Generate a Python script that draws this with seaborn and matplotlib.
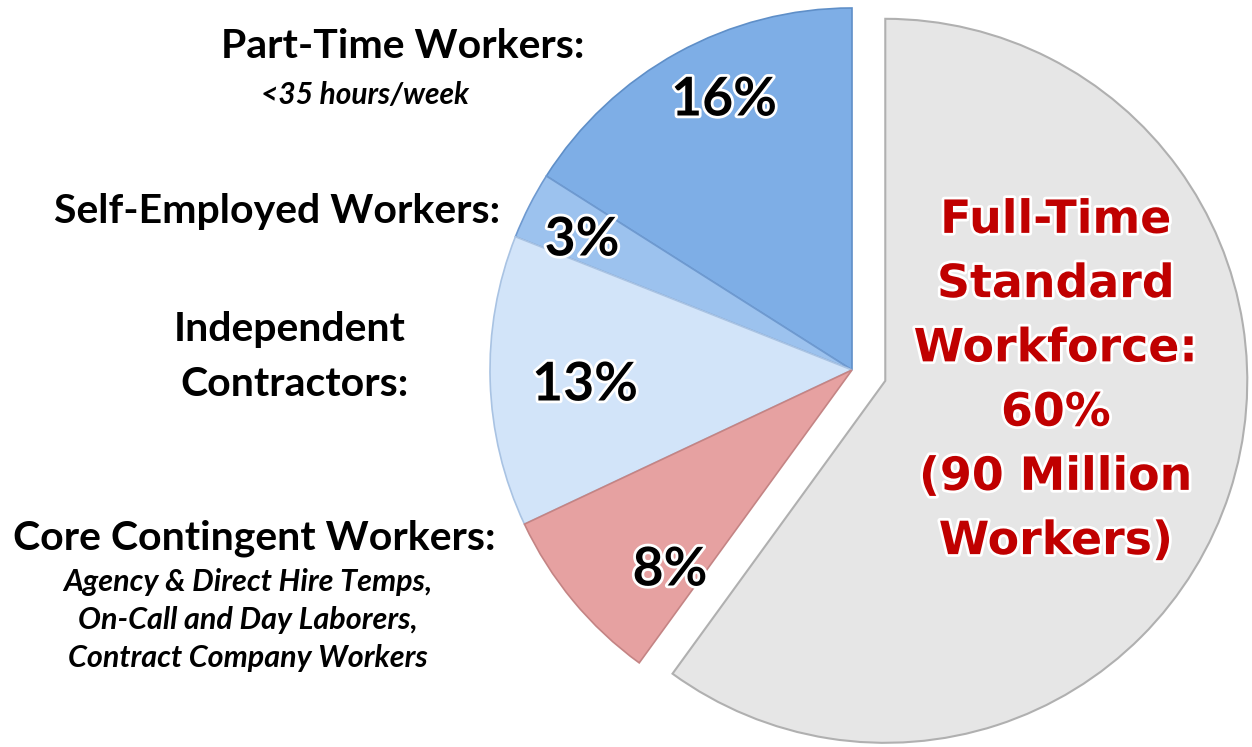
import matplotlib.pyplot as plt
import matplotlib.patheffects as pe
import seaborn as sns

# slice data, counter-clockwise from the top
segments = ["Part-Time Workers", "Self-Employed Workers", "Independent Contractors",
            "Core Contingent Workers", "Full-Time Standard Workforce"]
shares = [16, 3, 13, 8, 60]
pct_labels = ["16%", "3%", "13%", "8%", ""]
explode = [0, 0, 0, 0, 35]
colors = ["#7eaee6", "#9cc2ee", "#d2e4f9", "#e6a1a1", "#e6e6e6"]
edge_colors = ["#5f8fc8", "#6f9ad0", "#a9c3e3", "#c48484", "#b0b0b0"]

full_time_text = "Full-Time\nStandard\nWorkforce:\n60%\n(90 Million\nWorkers)"

sns.set_theme(style="white")
plt.rcParams["font.family"] = ["Lato", "DejaVu Sans"]
plt.rcParams["text.color"] = "black"

fig = plt.figure(figsize=(12.52, 7.47), dpi=100)
ax = fig.add_axes([0, 0, 1, 1])

wedges, _ = ax.pie(shares, explode=explode, colors=colors, startangle=90,
                   counterclock=True, center=(852, 377), radius=362,
                   wedgeprops=dict(linewidth=1.2), frame=True)
for w, ec in zip(wedges, edge_colors):
    w.set_edgecolor(ec)
wedges[-1].set_linewidth(1.5)

ax.set_xlim(0, 1252)
ax.set_ylim(0, 747)
ax.set_aspect("equal")
ax.axis("off")

glow = [pe.withStroke(linewidth=4, foreground="white")]

# percentage labels inside the slices
pct_pos = [(724, 647), (582, 507), (585, 362), (670, 177)]
for (x, y), t in zip(pct_pos, pct_labels[:4]):
    ax.text(x, y, t, ha="center", va="center", fontsize=38.5, fontweight="bold",
            color="black", path_effects=glow)

# left side category labels
ax.text(403, 700, "Part-Time Workers:", ha="center", va="center",
        fontsize=29.5, fontweight="bold")
ax.text(365, 652, "<35 hours/week", ha="center", va="center",
        fontsize=21.5, fontweight="bold", style="italic")
ax.text(277, 535, "Self-Employed Workers:", ha="center", va="center",
        fontsize=29.5, fontweight="bold")
ax.text(290, 417, "Independent", ha="center", va="center",
        fontsize=29.5, fontweight="bold")
ax.text(295, 362, "Contractors:", ha="center", va="center",
        fontsize=29.5, fontweight="bold")
ax.text(254, 209, "Core Contingent Workers:", ha="center", va="center",
        fontsize=29.5, fontweight="bold")
for y, t in zip([165, 127, 89], ["Agency & Direct Hire Temps,",
                                 "On-Call and Day Laborers,",
                                 "Contract Company Workers"]):
    ax.text(248, y, t, ha="center", va="center", fontsize=22,
            fontweight="bold", style="italic")

# full-time label in the exploded slice
ax.text(1056, 366, full_time_text, ha="center", va="center", fontsize=33,
        fontweight="bold", color="#c00000", linespacing=1.55,
        family=["DejaVu Sans"], path_effects=glow)

fig.savefig("out.png", dpi=100)
